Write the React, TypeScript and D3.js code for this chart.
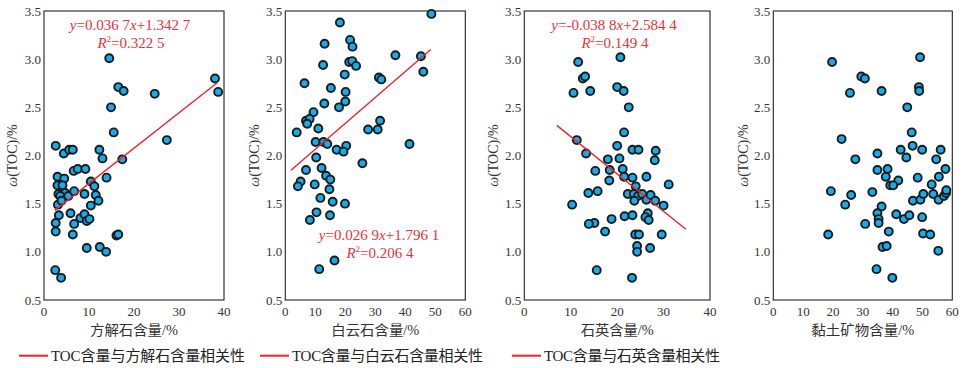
import React from "react";
import * as d3 from "d3";

// ---------- data ----------
const calciteX = [14.5,16.5,17.7,14.9,24.6,38.0,38.7,15.5,27.3,2.6,4.4,5.6,6.4,12.3,13.0,17.4,6.6,7.5,9.2,3.0,4.5,10.4,13.9,3.0,4.1,11.2,3.2,4.7,3.6,5.4,6.7,9.0,11.5,12.1,3.1,3.9,10.4,5.9,3.3,6.7,2.6,8.1,9.0,9.5,10.1,2.6,6.4,16.1,16.5,9.5,12.4,13.8,2.5,3.8];
const calciteY = [3.01,2.71,2.67,2.50,2.64,2.80,2.66,2.24,2.16,2.10,2.02,2.06,2.06,2.06,1.97,1.96,1.84,1.86,1.86,1.78,1.76,1.73,1.77,1.69,1.69,1.68,1.60,1.61,1.58,1.58,1.63,1.60,1.59,1.53,1.49,1.53,1.48,1.40,1.38,1.29,1.30,1.35,1.39,1.32,1.34,1.21,1.18,1.17,1.18,1.04,1.05,1.00,0.81,0.73];

const dolomiteX = [48.7,18.2,21.6,22.4,13.1,36.7,45.2,12.6,21.3,22.3,23.6,46.0,19.8,31.2,32.0,6.4,15.2,20.1,20.0,13.0,17.9,9.4,6.9,8.1,7.3,3.8,11.0,27.6,30.8,31.6,10.1,12.7,14.0,41.4,17.1,20.3,19.4,10.3,25.7,6.9,12.1,13.6,15.0,5.1,4.2,9.8,14.7,11.7,15.8,19.9,10.4,14.9,8.2,16.4,11.3];
const dolomiteY = [3.47,3.38,3.20,3.13,3.16,3.04,3.03,2.94,2.97,2.98,2.93,2.87,2.84,2.81,2.79,2.75,2.70,2.66,2.56,2.54,2.50,2.45,2.36,2.38,2.33,2.24,2.28,2.27,2.27,2.36,2.14,2.14,2.12,2.12,2.06,2.10,2.04,1.98,1.92,1.85,1.87,1.79,1.75,1.73,1.68,1.70,1.65,1.56,1.52,1.50,1.41,1.38,1.33,0.91,0.82];

const quartzX = [20.7,11.6,12.6,13.1,10.6,14.2,20.0,21.4,22.5,21.5,11.3,20.0,23.3,24.6,28.3,13.3,18.0,20.5,28.1,15.3,18.4,21.2,21.5,23.3,26.3,18.3,13.8,15.8,10.3,22.3,24.0,23.6,24.5,25.4,23.7,26.3,27.2,28.2,30.0,31.1,15.1,13.9,18.8,21.6,23.3,26.6,26.1,26.8,17.4,23.9,24.7,29.6,24.3,24.3,27.1,15.6,23.2];
const quartzY = [3.02,2.97,2.80,2.82,2.65,2.67,2.71,2.67,2.50,2.24,2.16,2.10,2.06,2.06,2.05,2.02,1.96,1.97,1.95,1.84,1.85,1.86,1.78,1.77,1.78,1.74,1.61,1.63,1.49,1.60,1.68,1.60,1.58,1.60,1.53,1.54,1.59,1.53,1.48,1.70,1.30,1.29,1.34,1.37,1.38,1.40,1.36,1.33,1.21,1.18,1.18,1.18,1.06,1.00,1.04,0.81,0.73];

const clayX = [49.2,19.7,29.5,30.7,25.7,36.3,48.8,48.9,44.9,46.4,22.9,46.7,42.7,49.9,56.1,34.9,27.5,44.6,54.6,34.9,38.3,57.7,37.7,48.4,55.5,41.9,39.2,40.2,19.3,26.1,24.1,33.2,36.3,34.9,35.3,35.3,30.8,38.7,41.2,43.8,45.6,46.8,49.3,50.3,53.1,53.6,55.4,57.2,57.9,58.0,49.9,50.2,52.6,18.4,36.6,38.0,55.3,34.6,39.9];
const clayY = [3.02,2.97,2.82,2.80,2.65,2.67,2.71,2.67,2.50,2.24,2.17,2.10,2.06,2.06,2.06,2.02,1.96,1.98,1.96,1.85,1.86,1.86,1.78,1.77,1.78,1.74,1.69,1.69,1.63,1.59,1.49,1.62,1.47,1.40,1.34,1.30,1.29,1.21,1.39,1.34,1.38,1.53,1.54,1.60,1.70,1.60,1.54,1.58,1.61,1.64,1.36,1.19,1.18,1.18,1.05,1.06,1.01,0.82,0.73];

const xTicks40 = [0, 10, 20, 30, 40];
const xTicks60 = [0, 10, 20, 30, 40, 50, 60];
const yTicks = [0.5, 1.0, 1.5, 2.0, 2.5, 3.0, 3.5];

const xTitles = ["方解石含量/%", "白云石含量/%", "石英含量/%", "黏土矿物含量/%"];
const slopes = [0.0367, 0.0269, -0.0388];
const intercepts = [1.3427, 1.7961, 2.5844];
const fitRanges = [[2.4, 38.5], [1.9, 48.5], [7.0, 34.8]];
const slopeText = ["0.036 7", "0.026 9", "-0.038 8"];
const interceptText = ["1.342 7", "1.796 1", "2.584 4"];
const r2Text = ["0.322 5", "0.206 4", "0.149 4"];
const legendLabels = ["TOC含量与方解石含量相关性", "TOC含量与白云石含量相关性", "TOC含量与石英含量相关性"];

// ---------- layout ----------
const W = 963, H = 368;
const TOP = 11, BOTTOM = 300;
const panels = [
  { left: 44, right: 224, xs: calciteX, ys: calciteY, ticks: xTicks40, titleX: 12, eq: { x: 130, y: 30 } },
  { left: 285.3, right: 465.3, xs: dolomiteX, ys: dolomiteY, ticks: xTicks60, titleX: 254, eq: { x: 379, y: 240 } },
  { left: 524.3, right: 710, xs: quartzX, ys: quartzY, ticks: xTicks40, titleX: 493, eq: { x: 614, y: 30 } },
  { left: 773.3, right: 952.3, xs: clayX, ys: clayY, ticks: xTicks60, titleX: 743, eq: null },
];
const legendPos = [19, 260, 512];
const legendLen = [194, 191, 176];
const xTitleLen = [88, 88, 73, 103];

const SERIF = "Liberation Serif, DejaVu Serif, Noto Sans CJK SC, serif";
const RED = "#e8262d";
const TEXTRED = "#e8323a";
const FILL = "#16aceb";
const txt = { fontFamily: SERIF };

export default function App() {
  const y = d3.scaleLinear().domain([0.5, 3.5]).range([BOTTOM, TOP]);
  return (
    <svg width={W} height={H} style={{ position: "absolute", left: 0, top: 0, background: "#fff", fontFamily: SERIF }}>
      {panels.map((p, i) => {
        const xmax = p.ticks[p.ticks.length - 1];
        const x = d3.scaleLinear().domain([0, xmax]).range([p.left, p.right]);
        const line = d3.line<number>().x((v) => x(v)).y((v) => y(slopes[i] * v + intercepts[i]));
        return (
          <g key={i}>
            <rect x={p.left} y={TOP} width={p.right - p.left} height={BOTTOM - TOP} fill="none" stroke="#222" strokeWidth={1.1} />
            {yTicks.map((t) => (
              <text key={t} x={p.left - 3} y={y(t) + 4.5} textAnchor="end" fontSize={13} fill="#333" style={txt}>
                {t.toFixed(1)}
              </text>
            ))}
            {p.ticks.map((t) => (
              <text key={t} x={x(t)} y={BOTTOM + 16} textAnchor="middle" fontSize={13} fill="#333" style={txt}>
                {t}
              </text>
            ))}
            <text x={(p.left + p.right) / 2} y={335} textAnchor="middle" fontSize={14} fill="#333" style={txt}
              textLength={xTitleLen[i]} lengthAdjust="spacingAndGlyphs">
              {xTitles[i]}
            </text>
            <text transform={`translate(${p.titleX + 5},${(TOP + BOTTOM) / 2}) rotate(-90)`} textAnchor="middle" fontSize={14} fill="#333" style={txt}>
              <tspan fontStyle="italic">ω</tspan>(TOC)/%
            </text>
            {p.xs.map((v, j) => (
              <circle key={j} cx={x(v)} cy={y(p.ys[j])} r={4} fill={FILL} stroke="#1a1a1a" strokeWidth={1.9} />
            ))}
            {i < 3 && <path d={line(fitRanges[i]) || ""} fill="none" stroke={RED} strokeWidth={1.4} />}
            {p.eq && (
              <g fill={TEXTRED} textAnchor="middle" style={txt}>
                <text x={p.eq.x} y={p.eq.y} fontSize={15} style={txt}>
                  <tspan fontStyle="italic">y</tspan>={slopeText[i]}
                  <tspan fontStyle="italic">x</tspan>+{interceptText[i]}
                </text>
                <text x={p.eq.x + 1} y={p.eq.y + 18} fontSize={15} style={txt}>
                  <tspan fontStyle="italic">R</tspan>
                  <tspan fontSize={9} dy={-6}>2</tspan>
                  <tspan dy={6}>={r2Text[i]}</tspan>
                </text>
              </g>
            )}
          </g>
        );
      })}
      {legendLabels.map((l, i) => (
        <g key={i}>
          <line x1={legendPos[i]} x2={legendPos[i] + 29} y1={355.7} y2={355.7} stroke={RED} strokeWidth={2} />
          <text x={legendPos[i] + 32} y={361} fontSize={15} fill="#222" style={txt}
            textLength={legendLen[i]} lengthAdjust="spacing">
            {l}
          </text>
        </g>
      ))}
    </svg>
  );
}
